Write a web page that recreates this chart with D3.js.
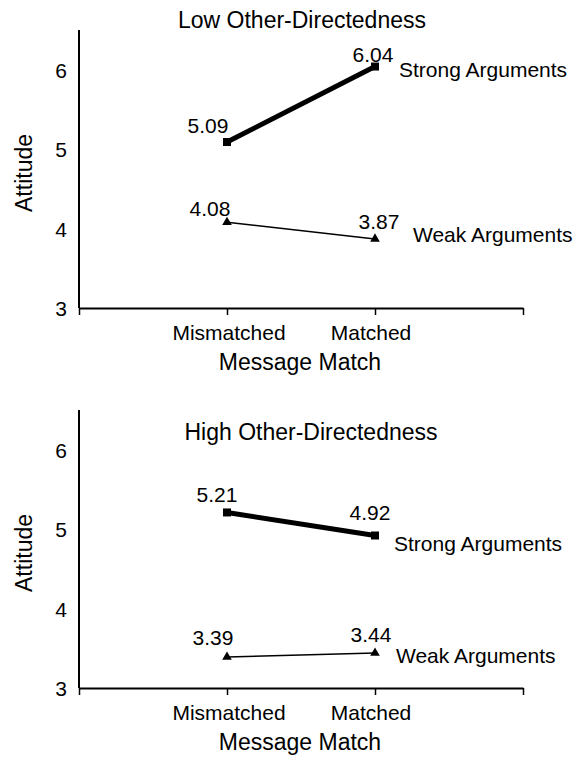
<!DOCTYPE html>
<html><head><meta charset="utf-8">
<script src="https://cdn.jsdelivr.net/npm/d3@7"></script>
<style>body{margin:0;background:#fff;} text{font-family:"Liberation Sans",Arial,sans-serif;fill:#000;}</style>
</head><body>
<svg id="c" width="578" height="757"></svg>
<script>
const categories = ["Mismatched", "Matched"];
const yTicks = [3, 4, 5, 6];
const panelTitles = ["Low Other-Directedness", "High Other-Directedness"];
const seriesNames = ["Strong Arguments", "Weak Arguments"];
const lowStrong = [5.09, 6.04];
const lowWeak = [4.08, 3.87];
const highStrong = [5.21, 4.92];
const highWeak = [3.39, 3.44];

const svg = d3.select("#c");

function panel(offY, title, strong, weak, st) {
  const g = svg.append("g").attr("transform", `translate(0,${offY})`);
  const x = d3.scaleLinear().domain([0, 3]).range([79, 523]);
  const y = d3.scaleLinear().domain([3, 6.5]).range([308, 30]);
  const catX = (i) => x(i + 1);

  // y axis line
  g.append("line").attr("x1", x(0)).attr("x2", x(0)).attr("y1", y(6.5)).attr("y2", y(3))
    .attr("stroke", "#000").attr("stroke-width", 2);
  g.append("g").selectAll("text").data(yTicks).join("text")
    .attr("x", 67).attr("y", d => y(d) + 8)
    .attr("text-anchor", "end").attr("font-size", 21).text(d => d);

  // x axis
  const xAxis = d3.axisBottom(x).tickValues([0, 1, 2, 3]).tickSize(7).tickSizeOuter(0).tickFormat("");
  const xg = g.append("g").attr("transform", `translate(0,${y(3)})`).call(xAxis);
  xg.select(".domain").attr("stroke-width", 2);
  xg.selectAll(".tick line").attr("stroke-width", 1.5);
  g.append("g").selectAll("text").data(categories).join("text")
    .attr("x", (d, i) => catX(i) + (i === 0 ? 2 : -4)).attr("y", 340)
    .attr("text-anchor", "middle").attr("font-size", 21).text(d => d);
  g.append("text").attr("x", 300).attr("y", 370)
    .attr("text-anchor", "middle").attr("font-size", 23).text("Message Match");
  g.append("text").attr("transform", `translate(32,${y(4.7)}) rotate(-90)`)
    .attr("text-anchor", "middle").attr("font-size", 23).text("Attitude");

  g.append("text").attr("x", st.tx).attr("y", st.ty)
    .attr("text-anchor", "middle").attr("font-size", 23).text(title);

  const line = d3.line().x((d, i) => catX(i)).y(d => y(d));
  // strong
  g.append("path").attr("d", line(strong)).attr("fill", "none").attr("stroke", "#000").attr("stroke-width", 5);
  g.append("g").selectAll("rect").data(strong).join("rect")
    .attr("x", (d, i) => catX(i) - 4).attr("y", d => y(d) - 4).attr("width", 8).attr("height", 8).attr("fill", "#000");
  // weak
  g.append("path").attr("d", line(weak)).attr("fill", "none").attr("stroke", "#000").attr("stroke-width", 1.5);
  const tri = d3.symbol().type(d3.symbolTriangle).size(40);
  g.append("g").selectAll("path").data(weak).join("path")
    .attr("d", tri).attr("transform", (d, i) => `translate(${catX(i)},${y(d)})`).attr("fill", "#000");

  // value labels
  [[strong, st.sdx, st.sdy], [weak, st.wdx, st.wdy]].forEach(([vals, dxs, dys]) => {
    g.append("g").selectAll("text").data(vals).join("text")
      .attr("x", (d, i) => catX(i) + dxs[i]).attr("y", (d, i) => y(d) + dys[i])
      .attr("text-anchor", "middle").attr("font-size", 21).text(d => d.toFixed(2));
  });

  // series labels
  g.append("text").attr("x", catX(1) + st.sx).attr("y", y(strong[1]) + st.sy)
    .attr("font-size", 21).text(seriesNames[0]);
  g.append("text").attr("x", catX(1) + st.wx).attr("y", y(weak[1]) + st.wy)
    .attr("font-size", 21).text(seriesNames[1]);
}

panel(0, panelTitles[0], lowStrong, lowWeak,
  {tx: 302, ty: 28, sdx: [-19, -2], sdy: [-9, -5], wdx: [-17, 4], wdy: [-6, -10],
   sx: 24, sy: 10, wx: 38, wy: 3});
panel(380, panelTitles[1], highStrong, highWeak,
  {tx: 311, ty: 60, sdx: [-10, -5], sdy: [-10, -15], wdx: [-14, -4], wdy: [-12, -11],
   sx: 19, sy: 16, wx: 21, wy: 10});
</script>
</body></html>
